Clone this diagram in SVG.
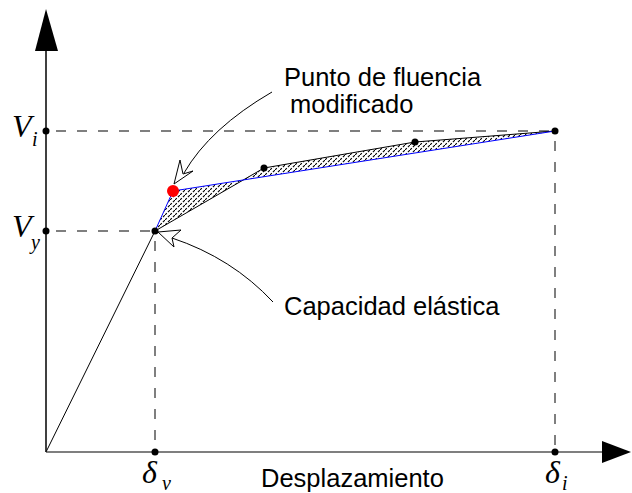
<svg xmlns="http://www.w3.org/2000/svg" width="632" height="493" viewBox="0 0 632 493">
<style>
.dash{stroke:#7f7f7f;stroke-width:2;stroke-dasharray:10 11;fill:none}
.lbl{font-family:"Liberation Sans",Arial,sans-serif;font-size:25.5px;fill:#000}
.math{font-family:"Liberation Serif","Times New Roman",serif;font-style:italic;fill:#000}
.dot{fill:#000}
.ann{fill:none;stroke:#000;stroke-width:1}
.head{fill:#fff;stroke:#000;stroke-width:1}
</style>
<defs>
<pattern id="hatch" patternUnits="userSpaceOnUse" width="5" height="5">
<path d="M-1,6 L6,-1" stroke="#000" stroke-width="1.1" stroke-dasharray="4 1.5"/>
</pattern>
</defs>
<rect width="632" height="493" fill="#fff"/>
<g id="axes">
<line x1="46" y1="452" x2="46" y2="48" stroke="#000" stroke-width="1.5"/>
<polygon points="46,9 35,51 58,51" fill="#000"/>
<line x1="46" y1="452" x2="603" y2="452" stroke="#7f7f7f" stroke-width="2"/>
<polygon points="631,452 602,441 602,463" fill="#000"/>
</g>
<g id="guides">
<line class="dash" x1="56" y1="131" x2="555" y2="131"/>
<line class="dash" x1="555" y1="141" x2="555" y2="452"/>
<line class="dash" x1="56" y1="231" x2="155" y2="231"/>
<line class="dash" x1="155" y1="241" x2="155" y2="452"/>
</g>
<g id="hatched-area">
<polygon points="155,231 264,168 415,142 555,131 173,191" fill="url(#hatch)" stroke="none"/>
</g>
<g id="capacity-curve">
<polyline points="46,452 155,231 264,168 415,142 555,131" fill="none" stroke="#000" stroke-width="1"/>
</g>
<g id="bilinear-curve">
<polyline points="155,231 173,191 555,131" fill="none" stroke="#0000ff" stroke-width="1"/>
</g>
<g id="points">
<circle class="dot" cx="46" cy="131" r="3.5"/>
<circle class="dot" cx="46" cy="231" r="3.5"/>
<circle class="dot" cx="155" cy="452" r="3.5"/>
<circle class="dot" cx="555" cy="452" r="3.5"/>
<circle class="dot" cx="155" cy="231" r="3.5"/>
<circle class="dot" cx="264" cy="168" r="3.5"/>
<circle class="dot" cx="415" cy="142" r="3.5"/>
<circle class="dot" cx="555" cy="131" r="3.5"/>
<circle cx="173" cy="191" r="6" fill="#ff0000"/>
</g>
<g id="connectors">
<path class="ann" d="M272,92 Q210,128 184,173"/>
<polygon class="head" points="174,184 180,160 183,174 193,171"/>
<path class="ann" d="M273,302 Q232,258 172,238"/>
<polygon class="head" points="158,232 181,230 172,238 174,247"/>
</g>
<g id="labels">
<text class="lbl" x="284" y="86">Punto de fluencia</text>
<text class="lbl" x="290" y="113">modificado</text>
<text class="lbl" x="284" y="315">Capacidad elástica</text>
<text class="lbl" x="261" y="487">Desplazamiento</text>
<text class="math" x="12" y="137" font-size="32">V</text>
<text class="math" x="32" y="146" font-size="20">i</text>
<text class="math" x="12" y="237" font-size="32">V</text>
<text class="math" x="31" y="249" font-size="20">y</text>
<text class="math" x="142" y="483" font-size="32">δ</text>
<text class="math" x="162" y="490" font-size="20">v</text>
<text class="math" x="545" y="483" font-size="32">δ</text>
<text class="math" x="562" y="490" font-size="20">i</text>
</g>
</svg>
